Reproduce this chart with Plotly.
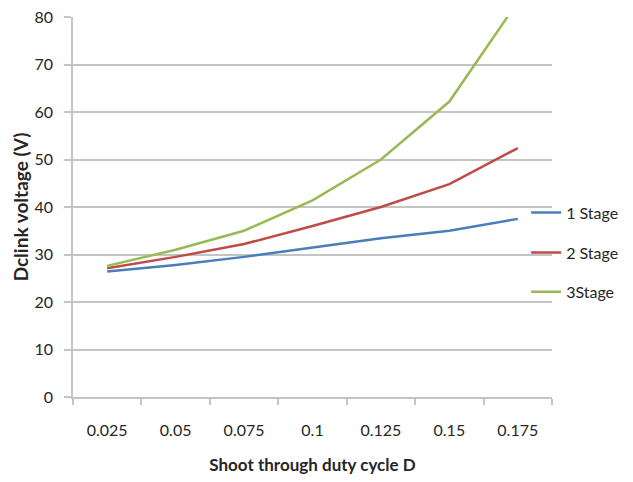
import plotly.graph_objects as go

categories = ["0.025", "0.05", "0.075", "0.1", "0.125", "0.15", "0.175"]
stage1 = [26.4, 27.8, 29.5, 31.4, 33.4, 35.0, 37.5]
stage2 = [27.1, 29.5, 32.2, 36.0, 40.0, 44.8, 52.4]
stage3 = [27.6, 31.0, 35.0, 41.4, 50.0, 62.2, 83.2]
series_names = ["1 Stage", "2 Stage", "3Stage"]
colors = ["#4A7EBB", "#BE4B48", "#98B954"]

FONT = "Lato"
TXT = "#262626"
GRID = "#c4c4c4"

fig = go.Figure()
for i, (name, vals) in enumerate(zip(series_names, [stage1, stage2, stage3])):
    fig.add_trace(go.Scatter(
        x=categories, y=vals, mode="lines", name=name, showlegend=True,
        line=dict(color=colors[i], width=2.5),
        legend="legend" if i == 0 else f"legend{i+1}",
    ))

leg_common = dict(font=dict(family=FONT, size=16, color=TXT), bgcolor="rgba(0,0,0,0)",
                  xanchor="left", yanchor="middle", x=0.946, borderwidth=0)

fig.update_layout(
    width=633, height=482,
    showlegend=True,
    margin=dict(l=73, r=81, t=17, b=85, autoexpand=False),
    paper_bgcolor="white", plot_bgcolor="white",
    font=dict(family=FONT, size=16, color=TXT),
    legend=dict(**leg_common, y=0.485),
    legend2=dict(**leg_common, y=0.38),
    legend3=dict(**leg_common, y=0.277),
    xaxis=dict(
        type="category", range=[-0.5, 6.5], tickson="boundaries",
        ticks="outside", ticklen=6, tickcolor=GRID, tickwidth=1.5,
        ticklabelstandoff=18,
        showgrid=False, showline=True, linecolor=GRID, linewidth=1.5,
        tickfont=dict(family=FONT, size=16, color=TXT),
        title=dict(text="<b>Shoot through duty cycle D</b>", standoff=21,
                   font=dict(family=FONT, size=17, color=TXT)),
    ),
    yaxis=dict(
        range=[0, 80], dtick=10, ticks="outside", ticklen=7, tickcolor=GRID, tickwidth=2,
        ticklabelstandoff=8,
        showgrid=True, gridcolor=GRID, gridwidth=2,
        showline=True, linecolor=GRID, linewidth=1.5, zeroline=False,
        tickfont=dict(family=FONT, size=16, color=TXT),
        title=dict(text="<b>Dclink voltage (V)</b>", standoff=1,
                   font=dict(family=FONT, size=19, color=TXT)),
    ),
)

fig.write_html("out.html")
